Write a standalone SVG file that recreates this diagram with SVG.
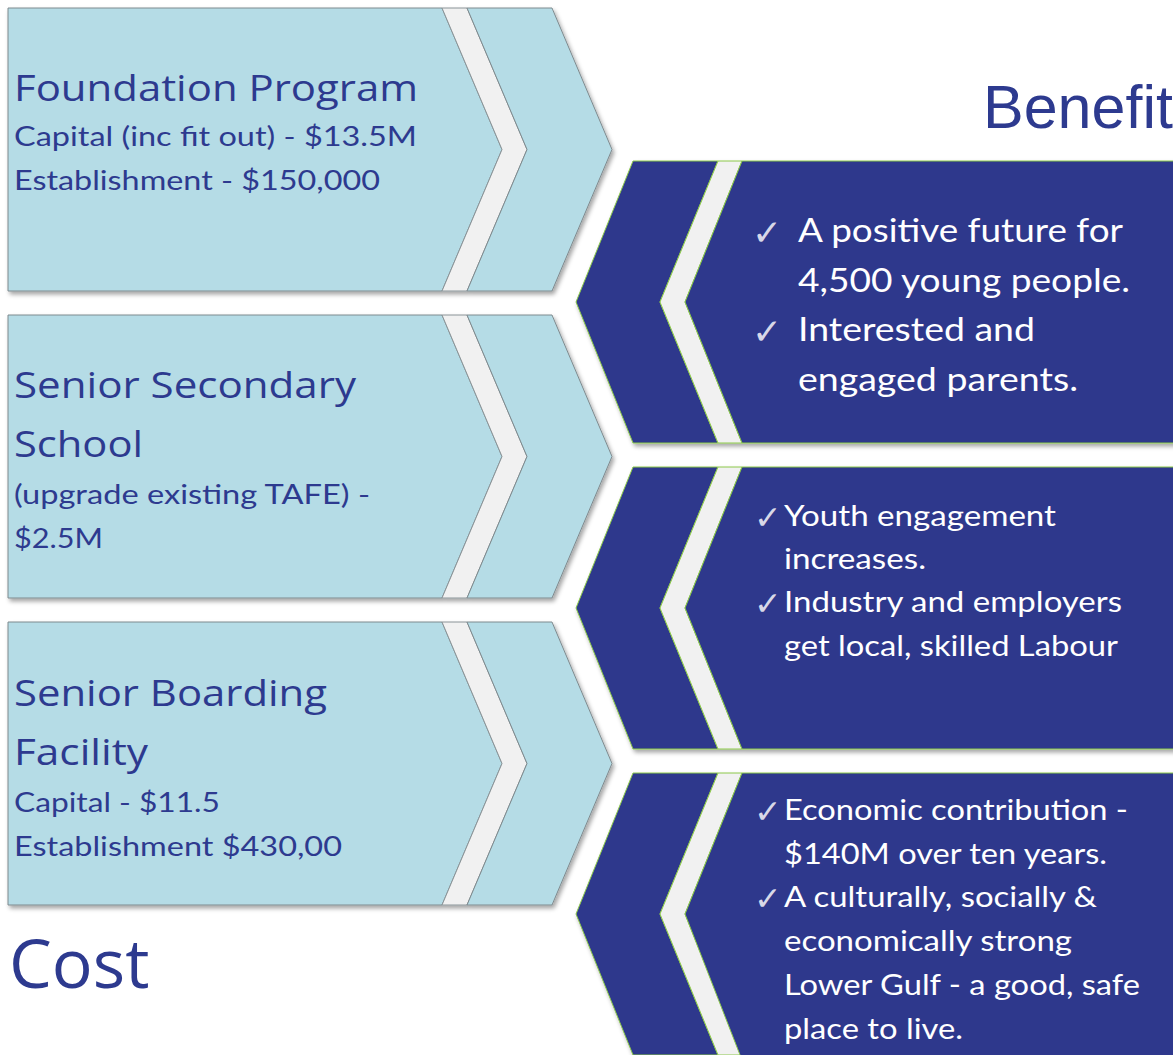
<svg xmlns="http://www.w3.org/2000/svg" width="1173" height="1055" viewBox="0 0 1173 1055">
<style>
.lb{fill:#b5dce6;stroke:#7f8a8e;stroke-width:1}
.lband{fill:#f1f1f1;stroke:#8a9498;stroke-width:1}
.db{fill:#2d398c;stroke:#8cc84b;stroke-width:1}
.dband{fill:#f1f1f1;stroke:#8cc84b;stroke-width:1}
.h{font-family:"Open Sans","Noto Sans",sans-serif;font-size:37px;fill:#2d3a8f}
.s{font-family:Lato,"Liberation Sans",sans-serif;font-size:27px;fill:#2d3a8f}
.w1{font-family:Lato,"Liberation Sans",sans-serif;font-size:33px;fill:#ffffff}
.w2{font-family:Lato,"Liberation Sans",sans-serif;font-size:28px;fill:#ffffff}
.ck{font-family:"DejaVu Sans",sans-serif;fill:#d8d8e8}
.title{fill:#2d3a8f}
</style>
<defs>
<filter id="sh" x="-5%" y="-5%" width="115%" height="115%">
<feDropShadow dx="2" dy="3" stdDeviation="2" flood-color="#000" flood-opacity="0.35"/>
</filter>
</defs>
<rect width="1173" height="1055" fill="#ffffff"/>

<g id="cost-1" filter="url(#sh)">
<path class="lb" d="M8,8 L442,8 L502,149.5 L442,291 L8,291 Z"/>
<path class="lband" d="M442,8 L467,8 L527,149.5 L467,291 L442,291 L502,149.5 Z"/>
<path class="lb" d="M467,8 L552,8 L612,149.5 L552,291 L467,291 L527,149.5 Z"/>
</g>
<g id="cost-2" filter="url(#sh)">
<path class="lb" d="M8,315 L442,315 L502,456.5 L442,598 L8,598 Z"/>
<path class="lband" d="M442,315 L467,315 L527,456.5 L467,598 L442,598 L502,456.5 Z"/>
<path class="lb" d="M467,315 L552,315 L612,456.5 L552,598 L467,598 L527,456.5 Z"/>
</g>
<g id="cost-3" filter="url(#sh)">
<path class="lb" d="M8,622 L442,622 L502,763.5 L442,905 L8,905 Z"/>
<path class="lband" d="M442,622 L467,622 L527,763.5 L467,905 L442,905 L502,763.5 Z"/>
<path class="lb" d="M467,622 L552,622 L612,763.5 L552,905 L467,905 L527,763.5 Z"/>
</g>

<g id="benefit-1" filter="url(#sh)">
<path class="db" d="M633,161 L718,161 L660,302 L718,443 L633,443 L576,302 Z"/>
<path class="dband" d="M718,161 L742,161 L685,302 L742,443 L718,443 L660,302 Z"/>
<path class="db" d="M742,161 L1180,161 L1180,443 L742,443 L685,302 Z"/>
</g>
<g id="benefit-2" filter="url(#sh)">
<path class="db" d="M633,467 L718,467 L660,608 L718,749 L633,749 L576,608 Z"/>
<path class="dband" d="M718,467 L742,467 L685,608 L742,749 L718,749 L660,608 Z"/>
<path class="db" d="M742,467 L1180,467 L1180,749 L742,749 L685,608 Z"/>
</g>
<g id="benefit-3" filter="url(#sh)">
<path class="db" d="M633,773 L718,773 L660,914 L718,1055 L633,1055 L576,914 Z"/>
<path class="dband" d="M718,773 L742,773 L685,914 L742,1055 L718,1055 L660,914 Z"/>
<path class="db" d="M742,773 L1180,773 L1180,1060 L742,1060 L685,914 Z"/>
</g>

<g id="connectors"></g>

<g id="text-cost-1">
<text class="h" x="14" y="101" textLength="404" lengthAdjust="spacingAndGlyphs">Foundation Program</text>
<text class="s" x="14" y="146" textLength="403" lengthAdjust="spacingAndGlyphs">Capital (inc fit out) - $13.5M</text>
<text class="s" x="14" y="190" textLength="366" lengthAdjust="spacingAndGlyphs">Establishment - $150,000</text>
</g>
<g id="text-cost-2">
<text class="h" x="14" y="398" textLength="342" lengthAdjust="spacingAndGlyphs">Senior Secondary</text>
<text class="h" x="14" y="457" textLength="129" lengthAdjust="spacingAndGlyphs">School</text>
<text class="s" x="14" y="504" textLength="356" lengthAdjust="spacingAndGlyphs">(upgrade existing TAFE) -</text>
<text class="s" x="14" y="548" textLength="89" lengthAdjust="spacingAndGlyphs">$2.5M</text>
</g>
<g id="text-cost-3">
<text class="h" x="14" y="706" textLength="313" lengthAdjust="spacingAndGlyphs">Senior Boarding</text>
<text class="h" x="14" y="765" textLength="134" lengthAdjust="spacingAndGlyphs">Facility</text>
<text class="s" x="14" y="812" textLength="206" lengthAdjust="spacingAndGlyphs">Capital - $11.5</text>
<text class="s" x="14" y="856" textLength="328" lengthAdjust="spacingAndGlyphs">Establishment $430,00</text>
</g>

<text id="benefit-title" class="title" x="983" y="128" font-family="'Liberation Sans',Arial,sans-serif" font-size="61">Benefit</text>
<text id="cost-title" class="title" x="9" y="988" font-family="'Open Sans','Noto Sans',sans-serif" font-size="68">Cost</text>

<g id="text-benefit-1">
<text class="ck" x="752" y="245" font-size="36">✓</text>
<text class="w1" x="798" y="242" textLength="325" lengthAdjust="spacingAndGlyphs">A positive future for</text>
<text class="w1" x="798" y="292" textLength="332" lengthAdjust="spacingAndGlyphs">4,500 young people.</text>
<text class="ck" x="752" y="344" font-size="36">✓</text>
<text class="w1" x="798" y="341" textLength="237" lengthAdjust="spacingAndGlyphs">Interested and</text>
<text class="w1" x="798" y="391" textLength="280" lengthAdjust="spacingAndGlyphs">engaged parents.</text>
</g>
<g id="text-benefit-2">
<text class="ck" x="754" y="529" font-size="33">✓</text>
<text class="w2" x="784" y="526" textLength="272" lengthAdjust="spacingAndGlyphs">Youth engagement</text>
<text class="w2" x="784" y="569" textLength="142" lengthAdjust="spacingAndGlyphs">increases.</text>
<text class="ck" x="754" y="615" font-size="33">✓</text>
<text class="w2" x="784" y="612" textLength="338" lengthAdjust="spacingAndGlyphs">Industry and employers</text>
<text class="w2" x="784" y="656" textLength="334" lengthAdjust="spacingAndGlyphs">get local, skilled Labour</text>
</g>
<g id="text-benefit-3">
<text class="ck" x="754" y="823" font-size="33">✓</text>
<text class="w2" x="784" y="820" textLength="344" lengthAdjust="spacingAndGlyphs">Economic contribution -</text>
<text class="w2" x="784" y="864" textLength="323" lengthAdjust="spacingAndGlyphs">$140M over ten years.</text>
<text class="ck" x="754" y="910" font-size="33">✓</text>
<text class="w2" x="784" y="907" textLength="313" lengthAdjust="spacingAndGlyphs">A culturally, socially &amp;</text>
<text class="w2" x="784" y="951" textLength="288" lengthAdjust="spacingAndGlyphs">economically strong</text>
<text class="w2" x="784" y="995" textLength="356" lengthAdjust="spacingAndGlyphs">Lower Gulf - a good, safe</text>
<text class="w2" x="784" y="1039" textLength="179" lengthAdjust="spacingAndGlyphs">place to live.</text>
</g>
</svg>
